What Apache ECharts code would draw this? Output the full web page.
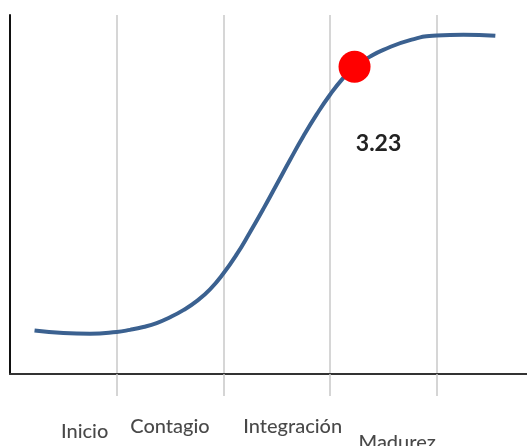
<!DOCTYPE html>
<html>
<head>
<meta charset="utf-8">
<script src="https://cdn.jsdelivr.net/npm/echarts@6/dist/echarts.min.js"></script>
<style>
html,body{margin:0;padding:0;background:#fff;}
#chart{width:527px;height:446px;}
</style>
</head>
<body>
<div id="chart"></div>
<script>
// Curve (stage progress, arbitrary scale)
const curveX = [0.23, 0.5, 0.75, 1.0, 1.125, 1.25, 1.375, 1.5, 1.625, 1.75, 1.875, 2.0, 2.125, 2.25, 2.375, 2.5, 2.625, 2.75, 2.875, 3.0, 3.125, 3.23, 3.375, 3.5, 3.75, 4.0, 4.25, 4.55];
const curveY = [1.21, 1.14, 1.12, 1.17, 1.23, 1.31, 1.42, 1.58, 1.78, 2.03, 2.36, 2.80, 3.33, 3.95, 4.60, 5.28, 5.96, 6.62, 7.23, 7.78, 8.25, 8.56, 8.84, 9.03, 9.30, 9.43, 9.45, 9.42];
// Highlighted point
const pointX = 3.23;
const pointY = 8.56;
const pointLabel = '3.23';
// Stage labels and where they sit along the x scale
const stageNames = ['Inicio', 'Contagio', 'Integración', 'Madurez'];
const stageX = [0.70, 1.50, 2.65, 3.63];
const stageY = [-1.59, -1.45, -1.45, -1.90];
// Grid lines
const gridTicks = [1, 2, 3, 4];

const chart = echarts.init(document.getElementById('chart'));
chart.setOption({
  animation: false,
  grid: {left: 10, right: 0, top: 15, bottom: 72},
  xAxis: {
    type: 'value', min: 0, max: 517 / 106.67, interval: 1,
    axisLine: {show: true, lineStyle: {color: '#333', width: 2}},
    axisTick: {show: true, inside: false, length: 22, customValues: gridTicks,
      lineStyle: {color: '#c8c8c8', width: 1.5}},
    axisLabel: {show: false},
    splitLine: {show: true, lineStyle: {color: '#c8c8c8', width: 1.5}}
  },
  yAxis: {
    type: 'value', min: 0, max: 10,
    axisLine: {show: true, lineStyle: {color: '#111', width: 2}},
    axisTick: {show: false}, axisLabel: {show: false}, splitLine: {show: false}
  },
  series: [
    {
      type: 'line', smooth: 0.5, symbol: 'none',
      data: curveX.map((x, i) => [x, curveY[i]]),
      lineStyle: {color: '#3b6190', width: 4}
    },
    {
      type: 'scatter', symbolSize: 32, z: 5,
      data: [[pointX, pointY]],
      itemStyle: {color: '#ff0000', opacity: 1},
      label: {show: true, formatter: pointLabel, position: 'inside', offset: [24, 77],
        fontFamily: 'Lato', fontWeight: 'bold', fontSize: 23, color: '#222'}
    },
    {
      type: 'scatter', symbolSize: 0, clip: false, silent: true,
      data: stageNames.map((n, i) => ({name: n, value: [stageX[i], stageY[i]]})),
      label: {show: true, position: 'inside', formatter: p => p.name,
        fontFamily: 'Lato', fontSize: 20, fontWeight: 500, color: '#1a1a1a'}
    }
  ]
});
</script>
</body>
</html>
